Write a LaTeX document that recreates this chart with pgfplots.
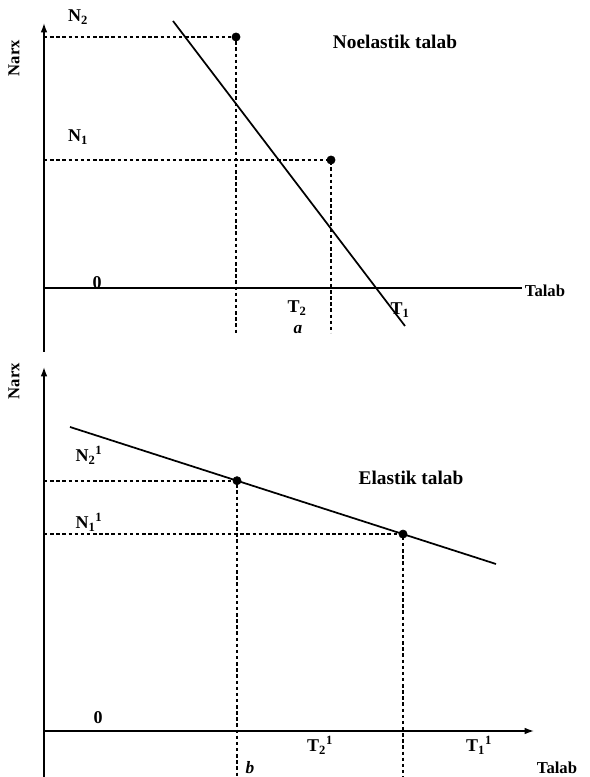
\documentclass[border=0pt]{standalone}
\usepackage{pgfplots}
\pgfplotsset{compat=1.18}
\usepackage{fontspec}
\setmainfont{Liberation Serif}
\usetikzlibrary{arrows.meta}
\begin{document}
\begin{tikzpicture}
\useasboundingbox (0,0) rectangle (441.75pt,582.75pt);
\tikzset{dsh/.style={black, line width=1pt, dash pattern=on 2.6pt off 2pt},
         lbl/.style={font=\fontsize{13.5}{15}\selectfont\bfseries, inner sep=0pt},
         ttl/.style={font=\fontsize{14.5}{16}\selectfont\bfseries, inner sep=0pt},
         sml/.style={font=\fontsize{12.5}{14}\selectfont\bfseries, inner sep=0pt}}
% ---------- top panel (a) ----------
\begin{axis}[at={(0,324pt)}, anchor=south west, scale only axis,
  width=441.75pt, height=258.75pt, xmin=-44, xmax=545, ymin=-57, ymax=288,
  hide axis, clip=false]
  % axes
  \addplot[black, line width=1.1pt, -{Latex[length=7pt,width=5pt]}] coordinates {(0,-64) (0,265)};
  \addplot[black, line width=1.1pt] coordinates {(0,0) (478,0)};
  % dashed guides
  \addplot[dsh] coordinates {(0,251) (192,251) (192,-45)};
  \addplot[dsh] coordinates {(0,128) (287,128) (287,-45)};
  % demand line
  \addplot[black, line width=1.3pt] coordinates {(129,267) (361,-38)};
  % points
  \addplot[only marks, mark=*, mark size=3.1pt, black] coordinates {(192,251) (287,128)};
  % labels
  \node[lbl] at (axis cs:34,271) {N\textsubscript{2}};
  \node[lbl] at (axis cs:34,151) {N\textsubscript{1}};
  \node[lbl] at (axis cs:53,5) {0};
  \node[ttl] at (axis cs:351,246) {Noelastik talab};
  \node[lbl] at (axis cs:253,-20) {T\textsubscript{2}};
  \node[lbl] at (axis cs:356,-22) {T\textsubscript{1}};
  \node[lbl, font=\fontsize{13}{14}\selectfont\bfseries\itshape] at (axis cs:254,-42) {a};
  \node[sml] at (axis cs:501,-3) {Talab};
  \node[sml, rotate=90] at (axis cs:-30,230) {Narx};
\end{axis}
% ---------- bottom panel (b) ----------
\begin{axis}[at={(0,0)}, anchor=south west, scale only axis,
  width=441.75pt, height=324pt, xmin=-44, xmax=545, ymin=-46, ymax=386,
  hide axis, clip=false]
  % axes
  \addplot[black, line width=1.1pt, -{Latex[length=7pt,width=5pt]}] coordinates {(0,-46) (0,364)};
  \addplot[black, line width=1.1pt, -{Latex[length=7pt,width=5pt]}] coordinates {(0,0) (490,0)};
  % dashed guides
  \addplot[dsh] coordinates {(0,250) (193,250) (193,-46)};
  \addplot[dsh] coordinates {(0,197) (359,197) (359,-46)};
  % demand line
  \addplot[black, line width=1.3pt] coordinates {(26,304) (452,167)};
  % points
  \addplot[only marks, mark=*, mark size=3.1pt, black] coordinates {(193,250.3) (359,196.9)};
  % labels
  \node[lbl] at (axis cs:45,276) {N\textsubscript{2}\textsuperscript{1}};
  \node[lbl] at (axis cs:45,209) {N\textsubscript{1}\textsuperscript{1}};
  \node[lbl] at (axis cs:54,13) {0};
  \node[ttl] at (axis cs:367,253) {Elastik talab};
  \node[lbl] at (axis cs:276,-14) {T\textsubscript{2}\textsuperscript{1}};
  \node[lbl] at (axis cs:435,-14) {T\textsubscript{1}\textsuperscript{1}};
  \node[lbl, font=\fontsize{13}{14}\selectfont\bfseries\itshape] at (axis cs:206,-37) {b};
  \node[sml] at (axis cs:513,-37) {Talab};
  \node[sml, rotate=90] at (axis cs:-30,350) {Narx};
\end{axis}
\end{tikzpicture}
\end{document}
